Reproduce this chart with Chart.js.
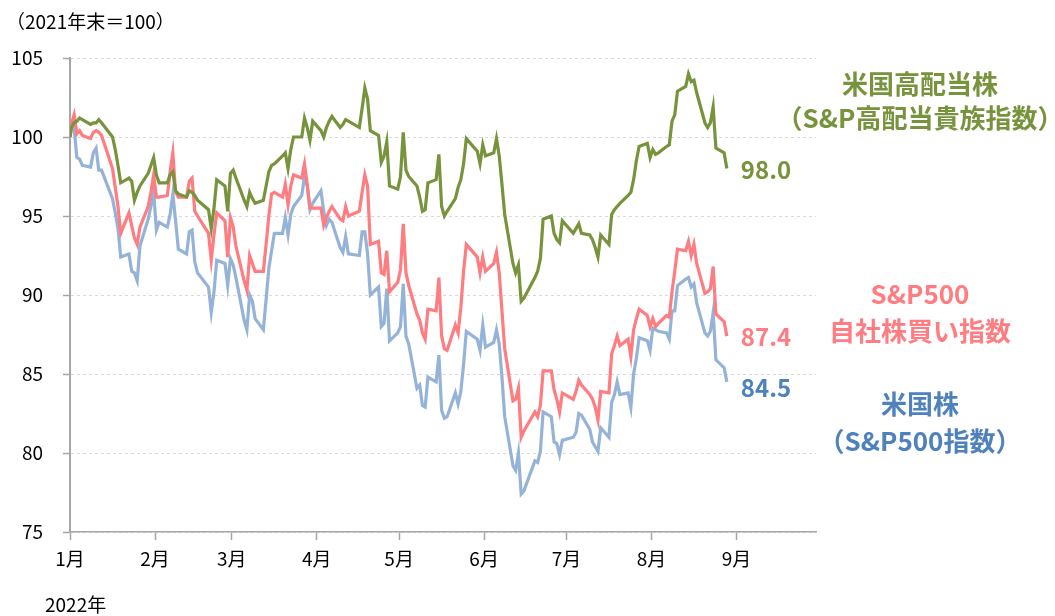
<!DOCTYPE html>
<html>
<head>
<meta charset="utf-8">
<script src="https://cdn.jsdelivr.net/npm/chart.js"></script>
<style> html, body { margin: 0; padding: 0; background: white; } </style>
</head>
<body>
<canvas id="myChart" width="1055" height="616"></canvas>
<script>
    // position on the axis in days (0 = 2021年末, then each trading day of 2022)
    const days = [0,
        0.5, 1.5, 2.5, 3.5, 4.5, 7.5, 8.5, 9.5, 10.5, 11.5, 15.5, 16.5, 17.5, 18.5, 21.5, 22.5, 23.5, 24.5, 25.5, 28.5,
        29.5, 30.5, 31.5, 32.5, 35.5, 36.5, 37.5, 38.5, 39.5, 42.5, 43.5, 44.5, 45.5, 46.5, 50.5, 51.5, 52.5, 53.5, 56.5,
        57.5, 58.5, 59.5, 60.5, 63.5, 64.5, 65.5, 66.5, 67.5, 70.5, 71.5, 72.5, 73.5, 74.5, 77.5, 78.5, 79.5, 80.5, 81.5, 84.5, 85.5, 86.5, 87.5,
        88.5, 91.5, 92.5, 93.5, 94.5, 95.5, 98.5, 99.5, 100.5, 101.5, 105.5, 106.5, 107.5, 108.5, 109.5, 112.5, 113.5, 114.5, 115.5, 116.5,
        119.5, 120.5, 121.5, 122.5, 123.5, 126.5, 127.5, 128.5, 129.5, 130.5, 133.5, 134.5, 135.5, 136.5, 137.5, 140.5, 141.5, 142.5, 143.5, 144.5, 148.5,
        149.5, 150.5, 151.5, 154.5, 155.5, 156.5, 157.5, 158.5, 161.5, 162.5, 163.5, 164.5, 165.5, 169.5, 170.5, 171.5, 172.5, 175.5, 176.5, 177.5, 178.5,
        179.5, 183.5, 184.5, 185.5, 186.5, 189.5, 190.5, 191.5, 192.5, 193.5, 196.5, 197.5, 198.5, 199.5, 200.5, 203.5, 204.5, 205.5, 206.5, 207.5,
        210.5, 211.5, 212.5, 213.5, 214.5, 217.5, 218.5, 219.5, 220.5, 221.5, 224.5, 225.5, 226.5, 227.5, 228.5, 231.5, 232.5, 233.5, 234.5, 235.5, 238.5, 239.5];

    const monthDays = [0, 31, 59, 90, 120, 151, 181, 212, 243];
    const monthLabels = ['1月', '2月', '3月', '4月', '5月', '6月', '7月', '8月', '9月'];
    const yTicks = [75, 80, 85, 90, 95, 100, 105];

    // 米国高配当株（S&P高配当貴族指数）
    const highDividend = [100,
        100.6, 100.9, 101.0, 101.2, 101.1, 100.8, 100.9, 100.9, 101.1, 100.9, 100.0, 99.2, 98.2, 97.1, 97.4, 97.2, 96.0, 96.5, 96.9, 97.7,
        98.2, 98.7, 97.6, 97.1, 97.1, 97.6, 97.8, 96.6, 96.4, 96.2, 96.6, 96.5, 96.3, 96.0, 95.4, 94.2, 95.5, 97.3, 96.9,
        95.3, 97.7, 97.9, 97.4, 96.0, 95.6, 96.5, 96.1, 95.8, 96.0, 96.9, 97.8, 98.2, 98.3, 98.8, 99.0, 98.0, 99.2, 100.0, 100.0, 101.2, 100.6, 99.8,
        101.0, 100.4, 100.0, 100.6, 101.0, 101.3, 100.6, 100.8, 101.1, 101.0, 100.6, 101.8, 103.1, 102.4, 100.4, 100.1, 98.4, 98.8, 99.7, 96.9,
        96.7, 97.5, 100.3, 97.9, 97.5, 96.9, 96.2, 95.3, 95.4, 97.1, 97.3, 98.9, 95.6, 95.0, 95.3, 96.1, 96.8, 97.3, 98.3, 99.9, 99.1,
        98.3, 99.5, 98.8, 99.0, 99.9, 98.8, 97.0, 95.1, 92.0, 91.4, 91.9, 89.6, 89.8, 91.1, 91.5, 92.3, 94.8, 95.0, 93.9, 93.5, 93.3,
        94.7, 93.9, 94.2, 94.5, 93.9, 93.8, 93.5, 93.0, 92.4, 93.8, 93.2, 95.1, 95.4, 95.6, 95.8, 96.3, 96.5, 97.3, 98.5, 99.4,
        99.6, 98.7, 99.2, 98.9, 99.0, 99.4, 99.5, 101.0, 101.4, 102.9, 103.2, 104.0, 103.5, 103.6, 102.8, 100.9, 100.6, 100.9, 101.9, 99.3, 99.0, 98.0];

    // S&P500自社株買い指数
    const buyback = [100,
        100.8, 101.4, 100.2, 100.4, 100.1, 99.9, 100.3, 100.4, 100.3, 100.1, 98.0, 96.8, 95.6, 93.9, 95.2, 94.4, 93.6, 93.2, 94.3, 95.6,
        96.5, 97.6, 96.2, 96.2, 96.3, 97.8, 99.0, 96.5, 96.2, 96.2, 97.2, 97.4, 95.3, 95.0, 93.9, 92.2, 93.8, 95.2, 94.7,
        92.4, 94.9, 94.3, 93.1, 90.9, 90.3, 92.5, 92.0, 91.5, 91.5, 93.2, 95.0, 96.4, 96.5, 96.2, 97.0, 95.7, 96.9, 97.6, 97.4, 98.3, 97.0, 95.5,
        95.5, 95.5, 94.4, 94.9, 95.3, 95.6, 94.8, 94.7, 95.6, 95.0, 95.3, 96.5, 97.6, 96.9, 93.2, 93.4, 91.4, 91.3, 92.8, 90.2,
        90.8, 91.6, 94.5, 91.4, 90.6, 88.8, 88.4, 87.6, 87.2, 89.1, 89.0, 91.1, 87.4, 86.6, 86.5, 88.1, 87.6, 89.2, 91.5, 93.2, 92.4,
        91.4, 92.4, 91.5, 92.0, 92.7, 91.4, 89.0, 86.6, 83.3, 83.4, 84.1, 81.0, 81.4, 82.6, 82.3, 83.0, 85.2, 85.2, 84.0, 83.4, 82.6,
        83.8, 83.4, 83.9, 84.6, 84.3, 83.7, 83.4, 82.9, 82.1, 83.9, 83.8, 86.3, 86.8, 87.4, 86.8, 87.2, 86.1, 87.8, 88.5, 89.1,
        88.7, 88.0, 88.5, 88.0, 88.2, 88.7, 88.6, 90.2, 91.5, 92.9, 92.8, 93.4, 92.5, 93.2, 92.0, 90.1, 90.2, 90.4, 91.8, 88.8, 88.3, 87.4];

    // 米国株（S&P500指数）
    const sp500 = [100,
        100.6, 100.6, 98.7, 98.6, 98.2, 98.1, 99.0, 99.3, 97.9, 97.9, 96.1, 95.2, 94.2, 92.4, 92.6, 91.5, 91.4, 90.9, 93.1, 94.8,
        95.6, 96.5, 94.1, 94.6, 94.3, 95.1, 96.4, 94.7, 92.9, 92.6, 94.0, 94.1, 92.1, 91.4, 90.5, 88.9, 90.2, 92.2, 92.0,
        90.6, 92.3, 91.9, 91.1, 88.4, 87.8, 90.0, 89.6, 88.5, 87.8, 89.7, 91.7, 92.8, 93.9, 93.9, 94.9, 93.8, 95.1, 95.6, 96.3, 97.5, 96.9, 95.4,
        95.8, 96.6, 95.3, 94.4, 94.8, 94.6, 93.0, 92.7, 93.7, 92.6, 92.5, 94.0, 94.0, 92.6, 90.0, 90.5, 88.0, 88.2, 90.4, 87.1,
        87.6, 88.0, 90.7, 87.4, 86.9, 84.1, 84.3, 83.0, 82.9, 84.8, 84.5, 86.2, 82.7, 82.2, 82.3, 83.8, 83.1, 83.9, 85.6, 87.7, 87.2,
        86.5, 88.1, 86.7, 87.0, 87.8, 86.9, 84.8, 82.3, 79.2, 78.9, 80.0, 77.4, 77.6, 79.5, 79.4, 80.1, 82.6, 82.3, 80.7, 80.6, 79.9,
        80.8, 81.0, 81.3, 82.5, 82.4, 81.5, 80.7, 80.4, 80.1, 81.6, 81.0, 83.2, 83.7, 84.5, 83.7, 83.8, 82.9, 85.0, 86.0, 87.3,
        87.1, 86.5, 87.9, 87.8, 87.7, 87.6, 87.2, 89.0, 89.0, 90.6, 91.0, 91.1, 90.5, 90.7, 89.5, 87.6, 87.4, 87.7, 88.9, 85.9, 85.4, 84.5];

    const seriesNames = [
        ['米国高配当株', '（S&P高配当貴族指数）'],
        ['S&P500', '自社株買い指数'],
        ['米国株', '（S&P500指数）']
    ];

    const tickFont = { family: '"Noto Sans CJK JP", sans-serif', size: 19 };

    function toPoints(values) {
        return values.map((v, i) => ({ x: days[i], y: v }));
    }

    // end values and series names next to the lines
    const labelPlugin = {
        id: 'labelPlugin',
        afterDraw(chart) {
            const ctx = chart.ctx;
            const xs = chart.scales.x, ys = chart.scales.y;
            ctx.save();
            ctx.textBaseline = 'middle';

            ctx.fillStyle = '#000';
            ctx.font = '19px "Noto Sans CJK JP"';
            ctx.textAlign = 'left';
            ctx.fillText('（2021年末＝100）', 6, 22);
            ctx.fillText('2022年', 45, 605);

            const nameY = [[84, 118], [294, 331], [404, 441]];
            const valueShift = [1, 1, 6];
            chart.data.datasets.forEach((ds, i) => {
                const last = ds.data[ds.data.length - 1];
                ctx.fillStyle = ds.textColor;
                ctx.font = 'bold 24px "Noto Sans CJK JP"';
                ctx.textAlign = 'left';
                ctx.fillText(last.y.toFixed(1), xs.getPixelForValue(last.x) + 14, ys.getPixelForValue(last.y) + valueShift[i]);
                ctx.font = 'bold 26px "Noto Sans CJK JP"';
                ctx.textAlign = 'center';
                seriesNames[i].forEach((t, k) => ctx.fillText(t, 920, nameY[i][k]));
            });
            ctx.restore();
        }
    };

    const ctx = document.getElementById('myChart').getContext('2d');
    new Chart(ctx, {
        type: 'line',
        data: {
            datasets: [
                { data: toPoints(highDividend), borderColor: '#77933C', textColor: '#77933C', borderWidth: 3.2, pointRadius: 0, tension: 0 },
                { data: toPoints(buyback), borderColor: '#FF7C80', textColor: '#FF7C80', borderWidth: 3.2, pointRadius: 0, tension: 0 },
                { data: toPoints(sp500), borderColor: '#95B3D7', textColor: '#4F81BD', borderWidth: 3.2, pointRadius: 0, tension: 0 }
            ]
        },
        options: {
            responsive: false,
            animation: false,
            devicePixelRatio: 1,
            layout: { padding: { top: 58, right: 239, left: 0, bottom: 0 } },
            plugins: { legend: { display: false }, tooltip: { enabled: false } },
            scales: {
                x: {
                    type: 'linear',
                    min: 0, max: 272,
                    afterBuildTicks: (axis) => { axis.ticks = monthDays.map(v => ({ value: v })); },
                    afterFit: (axis) => { axis.height = 84; },
                    ticks: {
                        autoSkip: false, maxRotation: 0, minRotation: 0, padding: 7,
                        color: '#000', font: tickFont,
                        callback: (v, i) => monthLabels[i]
                    },
                    grid: { drawOnChartArea: false, drawTicks: true, tickLength: 8, tickColor: '#a6a6a6', tickWidth: 1.5 },
                    border: { color: '#a6a6a6', width: 1.5 }
                },
                y: {
                    min: 75, max: 105,
                    afterBuildTicks: (axis) => { axis.ticks = yTicks.map(v => ({ value: v })); },
                    afterFit: (axis) => { axis.width = 70; },
                    ticks: { color: '#000', font: tickFont, padding: 20 },
                    grid: { color: '#d9d9d9', lineWidth: 1, tickLength: 7, tickColor: '#a6a6a6', tickBorderDash: [], tickWidth: 1.5 },
                    border: { color: '#a6a6a6', width: 2, dash: [3, 3] }
                }
            }
        },
        plugins: [labelPlugin]
    });
</script>
</body>
</html>
